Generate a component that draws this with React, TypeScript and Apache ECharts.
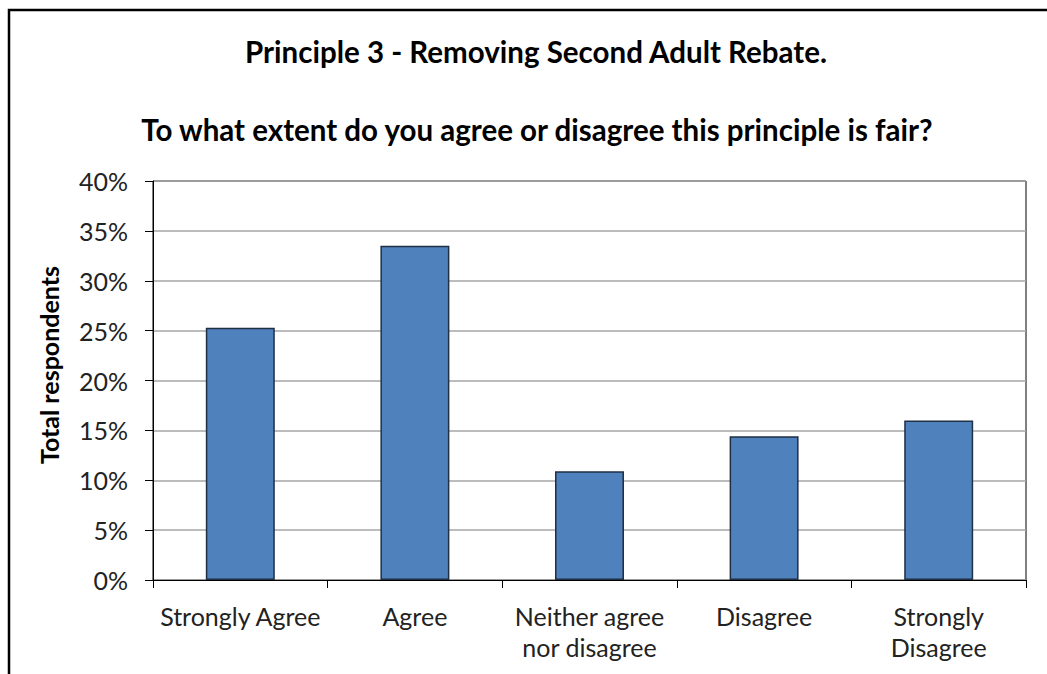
import React, { useEffect, useRef } from "react";
import * as echarts from "echarts";

const categories = ["Strongly Agree", "Agree", "Neither agree\nnor disagree", "Disagree", "Strongly\nDisagree"];
const values = [25.3, 33.5, 10.9, 14.4, 16.0];
const yTicks = [0, 5, 10, 15, 20, 25, 30, 35, 40];
const titleMain = "Principle 3 - Removing Second Adult Rebate.";
const titleSub = "To what extent do you agree or disagree this principle is fair?";
const yAxisTitle = "Total respondents";

export default function App() {
  const ref = useRef<HTMLDivElement>(null);
  useEffect(() => {
    if (!ref.current) return;
    const chart = echarts.init(ref.current, null, { renderer: "svg" });
    const font = "Lato, Calibri, 'Open Sans', sans-serif";
    chart.setOption({
      animation: false,
      backgroundColor: "#ffffff",
      title: [
        {
          text: titleMain,
          left: 531,
          top: 31,
          textAlign: "center",
          textStyle: { fontFamily: font, fontWeight: "bold", fontSize: 29.5, color: "#000" },
        },
        {
          text: titleSub,
          left: 532,
          top: 109,
          textAlign: "center",
          textStyle: { fontFamily: font, fontWeight: "bold", fontSize: 29.5, color: "#000" },
        },
      ],
      graphic: [
        {
          type: "rect",
          shape: { x: 9, y: 10, width: 1200, height: 900 },
          style: { fill: "none", stroke: "#000", lineWidth: 2.5 },
          silent: true,
        },
        {
          type: "text",
          x: 49,
          y: 365,
          rotation: Math.PI / 2,
          style: {
            text: yAxisTitle,
            fontFamily: font,
            fontWeight: "bold",
            fontSize: 25,
            fill: "#000",
            textAlign: "center",
            textVerticalAlign: "middle",
          },
        },
      ],
      grid: {
        left: 153,
        right: 21,
        top: 181,
        bottom: 94,
        show: true,
        borderColor: "#000",
        borderWidth: 1,
        backgroundColor: "transparent",
      },
      xAxis: {
        type: "category",
        data: categories,
        boundaryGap: true,
        axisLine: { lineStyle: { color: "#000", width: 1 } },
        axisTick: { show: true, length: 8, lineStyle: { color: "#000" } },
        axisLabel: {
          fontFamily: font,
          fontSize: 25,
          color: "#222",
          margin: 20,
          lineHeight: 31,
          interval: 0,
        },
        splitLine: { show: false },
      },
      yAxis: {
        type: "value",
        min: yTicks[0],
        max: yTicks[yTicks.length - 1],
        interval: 5,
        axisLine: { show: true, lineStyle: { color: "#000", width: 1 } },
        axisTick: { show: true, length: 8, lineStyle: { color: "#000" } },
        axisLabel: {
          fontFamily: font,
          fontSize: 25,
          color: "#222",
          margin: 25,
          formatter: (v: number) => `${v}%`,
        },
        splitLine: { show: true, lineStyle: { color: "#a6a6a6", width: 1.5 } },
      },
      series: [
        {
          type: "bar",
          data: values,
          barWidth: "39.5%",
          itemStyle: { color: "#4F81BD", borderColor: "#1f2f44", borderWidth: 1.5 },
        },
      ],
    });
    return () => chart.dispose();
  }, []);
  return (
    <div
      ref={ref}
      style={{ position: "fixed", left: 0, top: 0, width: 1047, height: 674 }}
    />
  );
}
